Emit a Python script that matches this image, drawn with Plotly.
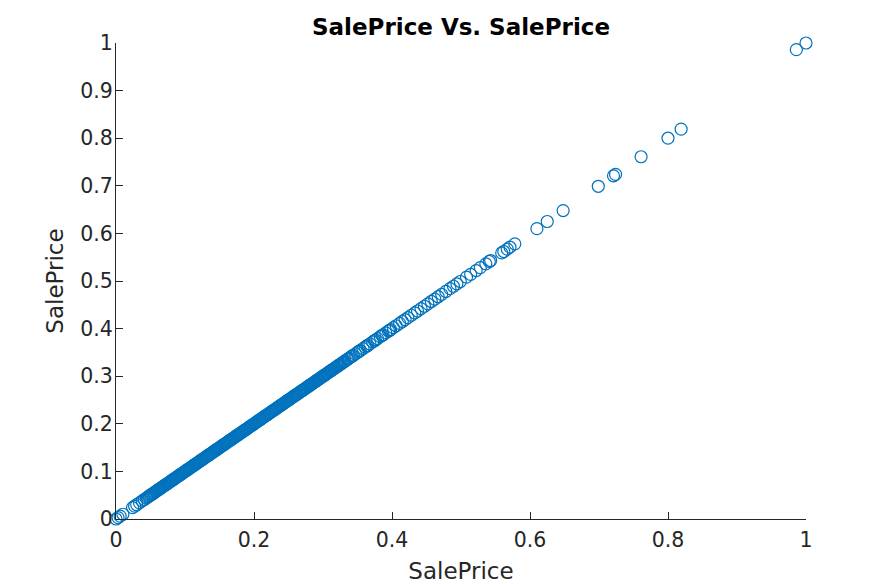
import plotly.graph_objects as go

# valores normalizados de SalePrice
sale_price = [
    0.000, 0.003, 0.006, 0.010, 0.024, 0.027, 0.030, 0.034, 0.038, 0.041,
    0.044, 0.047, 0.050, 0.053, 0.056, 0.059, 0.062, 0.065, 0.068, 0.071,
    0.074, 0.077, 0.080, 0.083, 0.086, 0.089, 0.092, 0.095, 0.098, 0.101,
    0.104, 0.107, 0.110, 0.113, 0.116, 0.119, 0.122, 0.125, 0.128, 0.131,
    0.134, 0.137, 0.140, 0.143, 0.146, 0.149, 0.152, 0.155, 0.158, 0.161,
    0.164, 0.167, 0.170, 0.173, 0.176, 0.179, 0.182, 0.185, 0.188, 0.191,
    0.194, 0.197, 0.200, 0.203, 0.206, 0.209, 0.212, 0.215, 0.218, 0.221,
    0.224, 0.227, 0.230, 0.233, 0.236, 0.239, 0.242, 0.245, 0.248, 0.251,
    0.254, 0.257, 0.260, 0.263, 0.266, 0.269, 0.272, 0.275, 0.278, 0.281,
    0.284, 0.287, 0.290, 0.293, 0.296, 0.299, 0.302, 0.305, 0.308, 0.311,
    0.314, 0.317, 0.320, 0.323, 0.326, 0.329, 0.332, 0.335, 0.338, 0.341,
    0.344, 0.347, 0.350, 0.354, 0.358, 0.361, 0.365, 0.368, 0.372, 0.376,
    0.379, 0.383, 0.387, 0.391, 0.395, 0.398, 0.402, 0.406, 0.411, 0.415,
    0.419, 0.423, 0.428, 0.433, 0.437, 0.442, 0.447, 0.452, 0.457, 0.462,
    0.467, 0.472, 0.478, 0.484, 0.489, 0.494, 0.499, 0.508, 0.514, 0.522,
    0.528, 0.536, 0.541, 0.543, 0.559, 0.562, 0.567, 0.571, 0.578, 0.610,
    0.625, 0.648, 0.699, 0.721, 0.724, 0.761, 0.800, 0.819, 0.986, 1.000,
]

# casas del tramo denso (muchas ventas con precios parecidos)
sale_price_denso = [
    0.0455, 0.0485, 0.0515, 0.0545, 0.0575, 0.0605, 0.0635, 0.0665, 0.0695, 0.0725,
    0.0755, 0.0785, 0.0815, 0.0845, 0.0875, 0.0905, 0.0935, 0.0965, 0.0995, 0.1025,
    0.1055, 0.1085, 0.1115, 0.1145, 0.1175, 0.1205, 0.1235, 0.1265, 0.1295, 0.1325,
    0.1355, 0.1385, 0.1415, 0.1445, 0.1475, 0.1505, 0.1535, 0.1565, 0.1595, 0.1625,
    0.1655, 0.1685, 0.1715, 0.1745, 0.1775, 0.1805, 0.1835, 0.1865, 0.1895, 0.1925,
    0.1955, 0.1985, 0.2015, 0.2045, 0.2075, 0.2105, 0.2135, 0.2165, 0.2195, 0.2225,
    0.2255, 0.2285, 0.2315, 0.2345, 0.2375, 0.2405, 0.2435, 0.2465, 0.2495, 0.2525,
    0.2555, 0.2585, 0.2615, 0.2645, 0.2675, 0.2705, 0.2735, 0.2765, 0.2795, 0.2825,
    0.2855, 0.2885, 0.2915, 0.2945, 0.2975, 0.3005, 0.3035, 0.3065, 0.3095, 0.3125,
    0.3155, 0.3185, 0.3215, 0.3245, 0.3275, 0.3305, 0.3365, 0.3425, 0.3525, 0.3635,
    0.3745, 0.3855, 0.3965,
]

x_ticks = [0, 0.2, 0.4, 0.6, 0.8, 1]
x_labels = ["0", "0.2", "0.4", "0.6", "0.8", "1"]
y_ticks = [0, 0.1, 0.2, 0.3, 0.4, 0.5, 0.6, 0.7, 0.8, 0.9, 1]
y_labels = ["0", "0.1", "0.2", "0.3", "0.4", "0.5", "0.6", "0.7", "0.8", "0.9", "1"]

valores = sale_price + sale_price_denso

fig = go.Figure()
fig.add_trace(go.Scatter(
    x=valores,
    y=valores,
    mode="markers",
    cliponaxis=False,
    marker=dict(symbol="circle-open", size=12, color="#0072BD",
                line=dict(width=1.2, color="#0072BD")),
    showlegend=False
))

eje = dict(
    showgrid=False, zeroline=False, showline=True, linecolor="#262626",
    linewidth=1, ticks="inside", ticklen=7, tickcolor="#262626",
    tickfont=dict(family="DejaVu Sans", size=20.5, color="#262626"),
    range=[0, 1], mirror=False
)

# la pagina deja 8 px de margen en el body
fig.update_layout(
    width=891, height=584,
    margin=dict(l=108, r=93, t=35, b=73),
    paper_bgcolor="white", plot_bgcolor="white",
    title=dict(text="<b>SalePrice Vs. SalePrice</b>", x=0.5, xanchor="center",
               xref="paper", y=0.967, yanchor="middle",
               font=dict(family="DejaVu Sans", size=23, color="black")),
    xaxis=dict(eje, tickvals=x_ticks, ticktext=x_labels, ticklabelstandoff=2,
               title=dict(text="SalePrice", standoff=12,
                          font=dict(family="DejaVu Sans", size=23, color="#262626"))),
    yaxis=dict(eje, tickvals=y_ticks, ticktext=y_labels, ticklabelstandoff=-2,
               title=dict(text="SalePrice", standoff=10,
                          font=dict(family="DejaVu Sans", size=23, color="#262626"))),
)

fig.write_html("out.html")
